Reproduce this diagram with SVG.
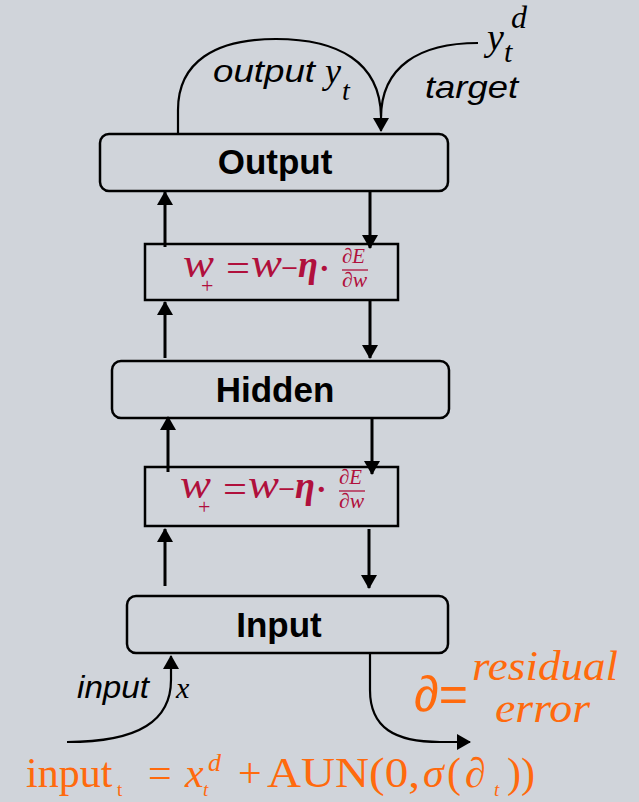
<svg xmlns="http://www.w3.org/2000/svg" width="639" height="802" viewBox="0 0 639 802">
  <style>
    .box { fill: none; stroke: #000; stroke-width: 2.5; }
    .lbl { font-family: "Liberation Sans", Arial, sans-serif; font-weight: bold; font-size: 35px; fill: #000; text-anchor: middle; }
    .note { font-family: "Liberation Sans", Arial, sans-serif; font-style: italic; font-size: 32px; fill: #000; }
    .mathk { font-family: "Liberation Serif", "Times New Roman", serif; font-style: italic; fill: #000; }
    .rule { font-family: "Liberation Serif", "Times New Roman", serif; fill: #b0103c; }
    .org { font-family: "Liberation Serif", "Times New Roman", serif; fill: #ff6a0d; }
    .arr { fill: none; stroke: #000; stroke-width: 3; }
    .crv { fill: none; stroke: #000; stroke-width: 2.2; }
  </style>
  <defs>
    <marker id="ah" viewBox="0 0 14 16" refX="13" refY="8" markerWidth="14" markerHeight="16" markerUnits="userSpaceOnUse" orient="auto">
      <path d="M0,0 L14,8 L0,16 Z" fill="#000"/>
    </marker>
    <!-- weight update rule: w+ = w - eta * dE/dw -->
    <g id="rule" class="rule">
      <text x="0" y="0" font-size="40" font-style="italic" textLength="31" lengthAdjust="spacingAndGlyphs">w</text>
      <text x="18" y="16" font-size="22">+</text>
      <text x="43" y="4" font-size="38" textLength="24" lengthAdjust="spacingAndGlyphs">=</text>
      <text x="68" y="0" font-size="40" font-style="italic" textLength="31" lengthAdjust="spacingAndGlyphs">w</text>
      <text x="98" y="4" font-size="38" textLength="17" lengthAdjust="spacingAndGlyphs">−</text>
      <text x="115" y="0" font-size="38" font-style="italic" font-weight="bold" textLength="20" lengthAdjust="spacingAndGlyphs">η</text>
      <text x="136" y="2" font-size="32" font-weight="bold">·</text>
      <text x="159" y="-14" font-size="21" font-style="italic" textLength="23" lengthAdjust="spacingAndGlyphs">∂E</text>
      <line x1="159" y1="-7" x2="185" y2="-7" stroke="#b0103c" stroke-width="1.3"/>
      <text x="159" y="10" font-size="21" font-style="italic" textLength="25" lengthAdjust="spacingAndGlyphs">∂w</text>
    </g>
  </defs>
  <rect width="639" height="802" fill="#d0d4da"/>

  <!-- layers -->
  <g id="output">
    <rect class="box" x="100" y="134" width="348" height="57" rx="9"/>
    <text class="lbl" x="275" y="174">Output</text>
  </g>
  <g id="update1">
    <rect class="box" x="145" y="244" width="253" height="56"/>
    <use href="#rule" x="183" y="277"/>
  </g>
  <g id="hidden">
    <rect class="box" x="112" y="361" width="337" height="57" rx="9"/>
    <text class="lbl" x="275" y="402">Hidden</text>
  </g>
  <g id="update2">
    <rect class="box" x="145" y="467" width="253" height="59"/>
    <use href="#rule" x="180" y="498"/>
  </g>
  <g id="input">
    <rect class="box" x="127" y="596" width="321" height="57" rx="9"/>
    <text class="lbl" x="279" y="637">Input</text>
  </g>

  <!-- connectors -->
  <g id="connectors">
    <line class="arr" x1="165" y1="247" x2="165" y2="192" marker-end="url(#ah)"/>
    <line class="arr" x1="370" y1="191" x2="370" y2="248" marker-end="url(#ah)"/>
    <line class="arr" x1="165" y1="358" x2="165" y2="302" marker-end="url(#ah)"/>
    <line class="arr" x1="370" y1="300" x2="370" y2="358" marker-end="url(#ah)"/>
    <line class="arr" x1="168" y1="472" x2="168" y2="417" marker-end="url(#ah)"/>
    <line class="arr" x1="372" y1="418" x2="372" y2="474" marker-end="url(#ah)"/>
    <line class="arr" x1="165" y1="586" x2="165" y2="529" marker-end="url(#ah)"/>
    <line class="arr" x1="369" y1="529" x2="369" y2="588" marker-end="url(#ah)"/>
    <!-- output feedback and target -->
    <path class="crv" d="M178,134 L178,110 C178,62 215,39 276,39 C338,39 380,62 381,116"/>
    <path class="crv" d="M478,43 C420,43 381,66 381,118 L381,131" marker-end="url(#ah)"/>
    <!-- input in, residual out -->
    <path class="crv" d="M67,742 C140,742 171,720 171,680 L171,656" marker-end="url(#ah)"/>
    <path class="crv" d="M370,653 L370,690 C370,728 395,742 440,742 L470,742" marker-end="url(#ah)"/>
  </g>

  <!-- annotations -->
  <g id="labels">
    <text class="note" x="213" y="82" textLength="102" lengthAdjust="spacingAndGlyphs">output</text>
    <text class="mathk" x="325" y="83" font-size="36">y</text>
    <text class="mathk" x="342" y="100" font-size="28">t</text>
    <text class="note" x="425" y="98" textLength="93" lengthAdjust="spacingAndGlyphs">target</text>
    <text class="mathk" x="487" y="50" font-size="38">y</text>
    <text class="mathk" x="504" y="62" font-size="30">t</text>
    <text class="mathk" x="511" y="28" font-size="32">d</text>
    <text class="note" x="77" y="698" textLength="72" lengthAdjust="spacingAndGlyphs">input</text>
    <text class="mathk" x="176" y="698" font-size="30">x</text>
  </g>
  <g id="residual" class="org">
    <text x="414" y="711" font-size="50" font-family="Liberation Sans, Arial, sans-serif">∂=</text>
    <text x="472" y="680" font-size="42" font-style="italic" textLength="146" lengthAdjust="spacingAndGlyphs">residual</text>
    <text x="495" y="722" font-size="42" font-style="italic" textLength="95" lengthAdjust="spacingAndGlyphs">error</text>
  </g>
  <g id="noise" class="org">
    <text x="26" y="787" font-size="42">input</text>
    <text x="117" y="796" font-size="19">t</text>
    <text x="148" y="787" font-size="42">=</text>
    <text x="185" y="787" font-size="42" font-style="italic">x</text>
    <text x="208" y="771" font-size="26" font-style="italic">d</text>
    <text x="203" y="796" font-size="19" font-style="italic">t</text>
    <text x="238" y="787" font-size="42">+</text>
    <text x="267" y="787" font-size="42" textLength="153" lengthAdjust="spacingAndGlyphs">AUN(0,</text>
    <text x="423" y="787" font-size="42" font-style="italic">σ</text>
    <text x="447" y="787" font-size="42">(</text>
    <text x="465" y="787" font-size="42">∂</text>
    <text x="494" y="796" font-size="19" font-style="italic">t</text>
    <text x="507" y="787" font-size="42">))</text>
  </g>
</svg>
